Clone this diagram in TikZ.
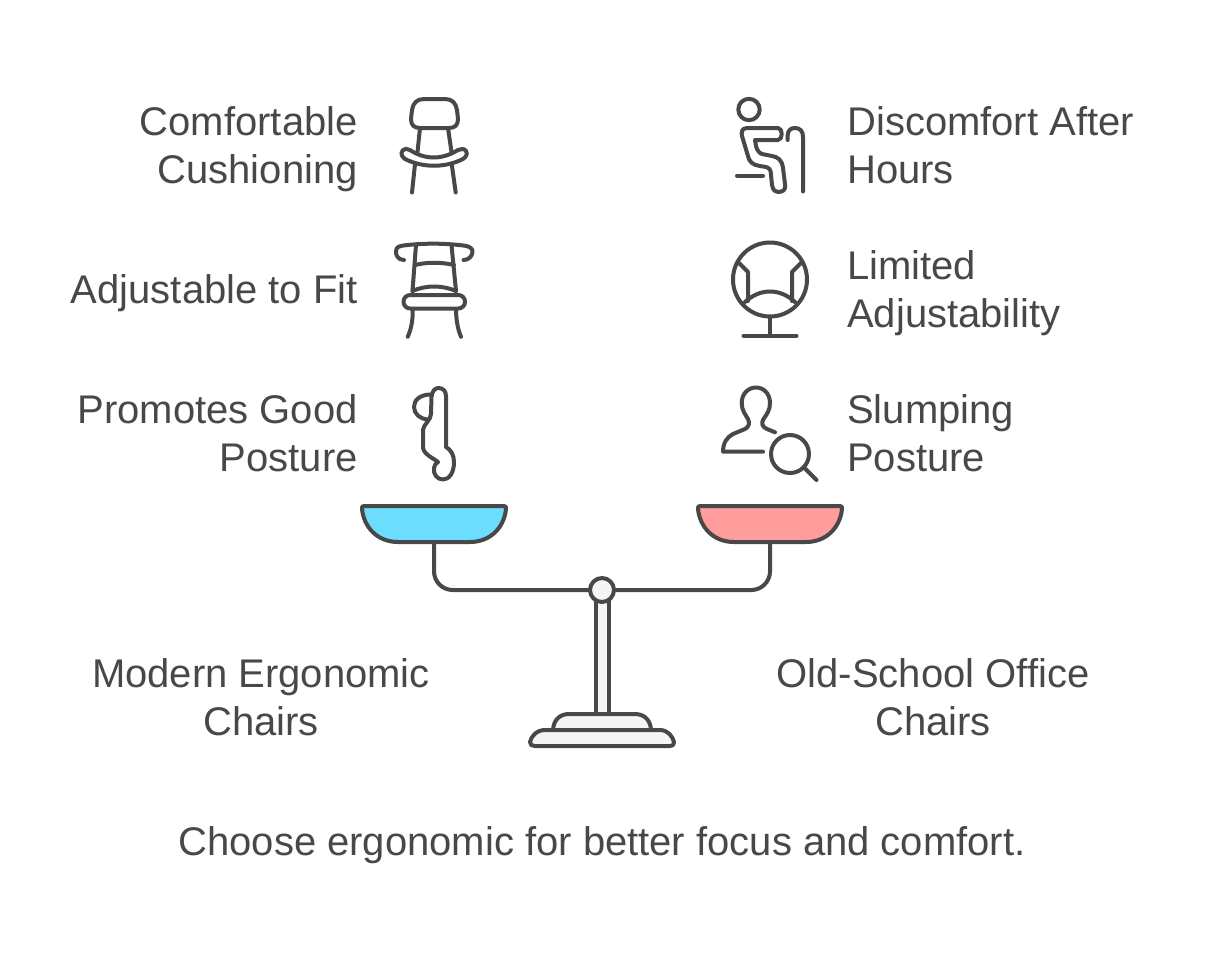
\documentclass[tikz,border=0pt]{standalone}
\usepackage{xcolor}
\usepackage{fontspec}
\setmainfont{Liberation Sans}
\usepackage{tikz}
\definecolor{inkgray}{HTML}{484848}
\definecolor{panblue}{HTML}{6CDCFF}
\definecolor{panred}{HTML}{FF9C9C}
\definecolor{standgray}{HTML}{F5F5F5}
\begin{document}
\begin{tikzpicture}[x=0.75pt,y=0.75pt,yscale=-1,xscale=1,
    iconline/.style={draw=inkgray,line width=3pt,line cap=round,line join=round},
    scaleline/.style={draw=inkgray,line width=3pt,line join=round},
    lefttext/.style={anchor=east,align=right,inner sep=0pt,text=inkgray,font=\fontsize{30}{36}\selectfont},
    righttext/.style={anchor=west,align=left,inner sep=0pt,text=inkgray,font=\fontsize{30}{36}\selectfont},
    midtext/.style={anchor=center,align=center,inner sep=0pt,text=inkgray,font=\fontsize{30}{36}\selectfont}]
    \useasboundingbox (0,0) rectangle (1228,964);

    % left labels
    \node (cushioning) at (358,149) [lefttext] {Comfortable\\Cushioning};
    \node (adjustable) at (358,293) [lefttext] {Adjustable to Fit};
    \node (goodposture) at (358,433) [lefttext] {Promotes Good\\Posture};
    % right labels
    \node (discomfort) at (847,145) [righttext] {Discomfort After\\Hours};
    \node (limited) at (847,293) [righttext] {Limited\\Adjustability};
    \node (slumping) at (847,433) [righttext] {Slumping\\Posture};
    % titles
    \node (modern) at (261,697) [midtext] {Modern Ergonomic\\Chairs};
    \node (oldschool) at (933,697) [midtext] {Old-School Office\\Chairs};
    \node (verdict) at (602,845) [midtext] {Choose ergonomic for better focus and comfort.};

    % chair with cushion
    \draw [iconline] (420,128) .. controls (414,128) and (411,125) .. (411,119) -- (412,110) .. controls (413,103) and (417,99) .. (424,99) -- (445,99) .. controls (452,99) and (456,103) .. (457,110) -- (458,119) .. controls (458,125) and (455,128) .. (449,128) -- cycle;
    \draw [iconline] (420,128) -- (417.5,152);
    \draw [iconline] (448,128) -- (451.5,152);
    \draw [iconline] (403,150) .. controls (405,148) and (407,149) .. (410,150) .. controls (425,160) and (442,160) .. (458,150) .. controls (461,149) and (464,148) .. (466,151) .. controls (468,154) and (466,157) .. (463,159) .. controls (445,168) and (423,168) .. (405,159) .. controls (402,157) and (400,153) .. (403,150) -- cycle;
    \draw [iconline] (415,164) -- (412,192.5);
    \draw [iconline] (451.7,164) -- (455.7,192.5);

    % chair with arm rail
    \draw [iconline] (404,260) .. controls (398,260) and (395.5,255) .. (396,251) .. controls (396.5,247) and (399,246) .. (402,245.7) .. controls (422,243) and (444,243) .. (465,245.7) .. controls (470,246.5) and (473,249) .. (472.5,252) .. controls (472,257) and (468,260) .. (463.5,260);
    \draw [iconline] (416,245) -- (412.5,291);
    \draw [iconline] (451.5,245) -- (456,291);
    \draw [iconline] (415,265) .. controls (427,262) and (441,262) .. (454,265);
    \draw [iconline] (412.5,291) .. controls (426,285) and (442,285) .. (456,291);
    \draw [iconline,rounded corners=5pt] (403.5,295) rectangle (465,308.5);
    \draw [iconline] (412.7,309) .. controls (413,320) and (411,330) .. (407.7,336.7);
    \draw [iconline] (456,309) .. controls (456,320) and (458,330) .. (461,336.7);

    % spine and head
    \draw [iconline] (431.5,397) .. controls (432,391) and (435,388) .. (438.5,388) .. controls (443,388) and (446,391) .. (446,396) -- (446,447) .. controls (451,450) and (454,455) .. (454,462) .. controls (454,473) and (449,479.5) .. (443,479.5) .. controls (437,479.5) and (433,474) .. (434,468) .. controls (434,465) and (436,463.5) .. (438,462) .. controls (433,458) and (423,454) .. (423,447) -- (423,430) .. controls (423,425) and (431,420) .. (431,414) -- cycle;
    \draw [iconline] (431,394.5) .. controls (420,394.5) and (414,400) .. (414,407) .. controls (414,414) and (420,419) .. (428,419.5);

    % sitting person
    \draw [iconline] (749,109.5) circle [radius=10.7];
    \draw [iconline] (778,128) -- (747,128) .. controls (742,128) and (741,132) .. (742,136) -- (748,156) .. controls (749,162) and (753,165) .. (760,166) -- (766,167) .. controls (770,168) and (771,171) .. (771,175) -- (772,185) .. controls (773,191) and (776,192) .. (778,192) .. controls (783,192) and (786,190) .. (785,184) -- (783,168) .. controls (782,160) and (778,157) .. (772,156) -- (762,154) .. controls (759,153) and (757,150) .. (756,146) -- (755,140) -- (778,140) .. controls (783,140) and (783,128) .. (778,128) -- cycle;
    \draw [iconline] (787.7,140) -- (787.7,135) .. controls (788,130) and (791,128) .. (795,128) .. controls (800,128) and (803,131) .. (803,137) -- (803,191.5);
    \draw [iconline] (737,175.7) -- (763,175.7);

    % egg chair
    \draw [iconline] (770,279.5) circle [radius=37];
    \draw [iconline] (738,262) -- (748,272) -- (748,301);
    \draw [iconline] (802,262) -- (792,272) -- (792,301);
    \draw [iconline] (745,302) .. controls (760,288) and (780,288) .. (795,302);
    \draw [iconline] (770,317) -- (770,335.7);
    \draw [iconline] (743.5,335.7) -- (796.5,335.7);

    % person with lens
    \draw [iconline] (775,432.3) -- (767,429) .. controls (762,427) and (761,423) .. (763.5,419) .. controls (767,414) and (770,410) .. (770,403) .. controls (770,394) and (764,387.5) .. (756,387.5) .. controls (748,387.5) and (741.7,394) .. (741.7,403) .. controls (741.7,410) and (745,414) .. (748,419) .. controls (750,423) and (749,427) .. (745,429) -- (733,434) .. controls (727,437) and (723,443) .. (723,451.7) -- (763,451.7);
    \draw [iconline] (790,454) circle [radius=19];
    \draw [iconline] (804,467.5) -- (816.5,480);

    % beam
    \draw [scaleline,rounded corners=14pt] (434,542) -- (434,590) -- (770,590) -- (770,542);
    % pans
    \draw [scaleline,fill=panblue] (364,506) -- (504,506) .. controls (506,506) and (506,507) .. (506,509) .. controls (504,528) and (490,542) .. (470,542) -- (398,542) .. controls (378,542) and (364,528) .. (362,509) .. controls (362,507) and (362,506) .. (364,506) -- cycle;
    \draw [scaleline,fill=panred] (700,506) -- (840,506) .. controls (842,506) and (842,507) .. (842,509) .. controls (840,528) and (826,542) .. (806,542) -- (734,542) .. controls (714,542) and (700,528) .. (698,509) .. controls (698,507) and (698,506) .. (700,506) -- cycle;
    % stand
    \draw [scaleline,fill=standgray] (595.5,600) rectangle (608.5,715);
    \draw [scaleline,fill=standgray] (553,731) .. controls (553,721) and (559,714) .. (569,714) -- (635,714) .. controls (645,714) and (651,721) .. (651,731) -- cycle;
    \draw [scaleline,fill=standgray] (545,730) -- (660,730) .. controls (668,730) and (673,737) .. (674,742) .. controls (674,745) and (673,746) .. (670,746) -- (535,746) .. controls (532,746) and (530,745) .. (530,742) .. controls (531,737) and (536,730) .. (545,730) -- cycle;
    \draw [scaleline,fill=standgray] (602,590) circle [radius=12];
\end{tikzpicture}
\end{document}
